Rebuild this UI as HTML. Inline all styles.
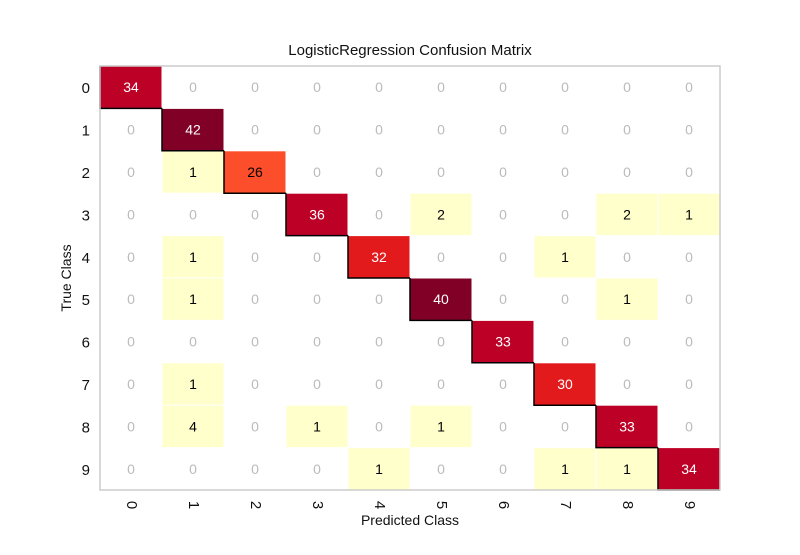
<!DOCTYPE html>
<html><head><meta charset="utf-8"><style>
body{margin:0;background:#fff;font-family:"Liberation Sans",sans-serif}
</style></head><body>
<svg id="c" width="800" height="550" xmlns="http://www.w3.org/2000/svg" font-family="Liberation Sans, sans-serif"></svg>
<script>
const classes=["0","1","2","3","4","5","6","7","8","9"];
const row0=[34,0,0,0,0,0,0,0,0,0];
const row1=[0,42,0,0,0,0,0,0,0,0];
const row2=[0,1,26,0,0,0,0,0,0,0];
const row3=[0,0,0,36,0,2,0,0,2,1];
const row4=[0,1,0,0,32,0,0,1,0,0];
const row5=[0,1,0,0,0,40,0,0,1,0];
const row6=[0,0,0,0,0,0,33,0,0,0];
const row7=[0,1,0,0,0,0,0,30,0,0];
const row8=[0,4,0,1,0,1,0,0,33,0];
const row9=[0,0,0,0,1,0,0,1,1,34];
const matrix=[row0,row1,row2,row3,row4,row5,row6,row7,row8,row9];
const NS="http://www.w3.org/2000/svg",svg=document.getElementById('c');
const L=100,T=66,R=720,B=490,n=classes.length,cw=(R-L)/n,ch=(B-T)/n;
const vmax=Math.max(...matrix.flat());
const stops=["#ffffcc","#ffeda0","#fed976","#feb24c","#fd8d3c","#fc4e2a","#e31a1c","#bd0026","#800026"];
function cidx(v){return Math.min(stops.length-1,Math.floor(v/vmax*(stops.length-0.001)));}
function el(t,a,txt){const e=document.createElementNS(NS,t);for(const k in a)e.setAttribute(k,a[k]);if(txt!=null)e.textContent=txt;svg.appendChild(e);return e;}
const xs=i=>L+i*cw, ys=j=>T+j*ch;
matrix.forEach((row,j)=>row.forEach((v,i)=>{
  if(v>0){
    const r=el('rect',{x:xs(i)+0.5,y:ys(j)+0.5,width:cw-1,height:ch-1,fill:stops[cidx(v)]});
    
    
  }
}));
matrix.forEach((row,j)=>{const i=j;
  const ln=el('polyline',{points:`${xs(i)},${ys(j)} ${xs(i)},${ys(j)+ch} ${xs(i)+cw},${ys(j)+ch}`,fill:'none',stroke:'#000','stroke-width':1.5});
  
  
});
matrix.forEach((row,j)=>row.forEach((v,i)=>{
  let col='#bbbbbb';
  if(v>0){col=cidx(v)>=6?'#fff':'#000';}
  const t=el('text',{x:xs(i)+cw/2,y:ys(j)+ch/2+5,'text-anchor':'middle','font-size':14,fill:col},v);
  
  
}));
const fr=el('rect',{x:L,y:T,width:R-L,height:B-T,fill:'none',stroke:'#cccccc','stroke-width':1.5});


classes.forEach((c,j)=>{
  const t=el('text',{x:90,y:ys(j)+ch/2+6,'text-anchor':'end','font-size':15,fill:'#111'},c);
  
  
  const cx=xs(j)+cw/2;
  const u=el('text',{x:cx,y:505,'text-anchor':'middle','font-size':15,fill:'#111',transform:`rotate(90 ${cx} 505)`,'dominant-baseline':'middle'},c);
  
  
});
let t=el('text',{x:410,y:55,'text-anchor':'middle','font-size':15,fill:'#111'},'LogisticRegression Confusion Matrix');


t=el('text',{x:410,y:525,'text-anchor':'middle','font-size':14,fill:'#111'},'Predicted Class');


t=el('text',{x:71,y:278,'text-anchor':'middle','font-size':14,fill:'#111',transform:'rotate(-90 71 278)'},'True Class');


</script>
</body></html>
